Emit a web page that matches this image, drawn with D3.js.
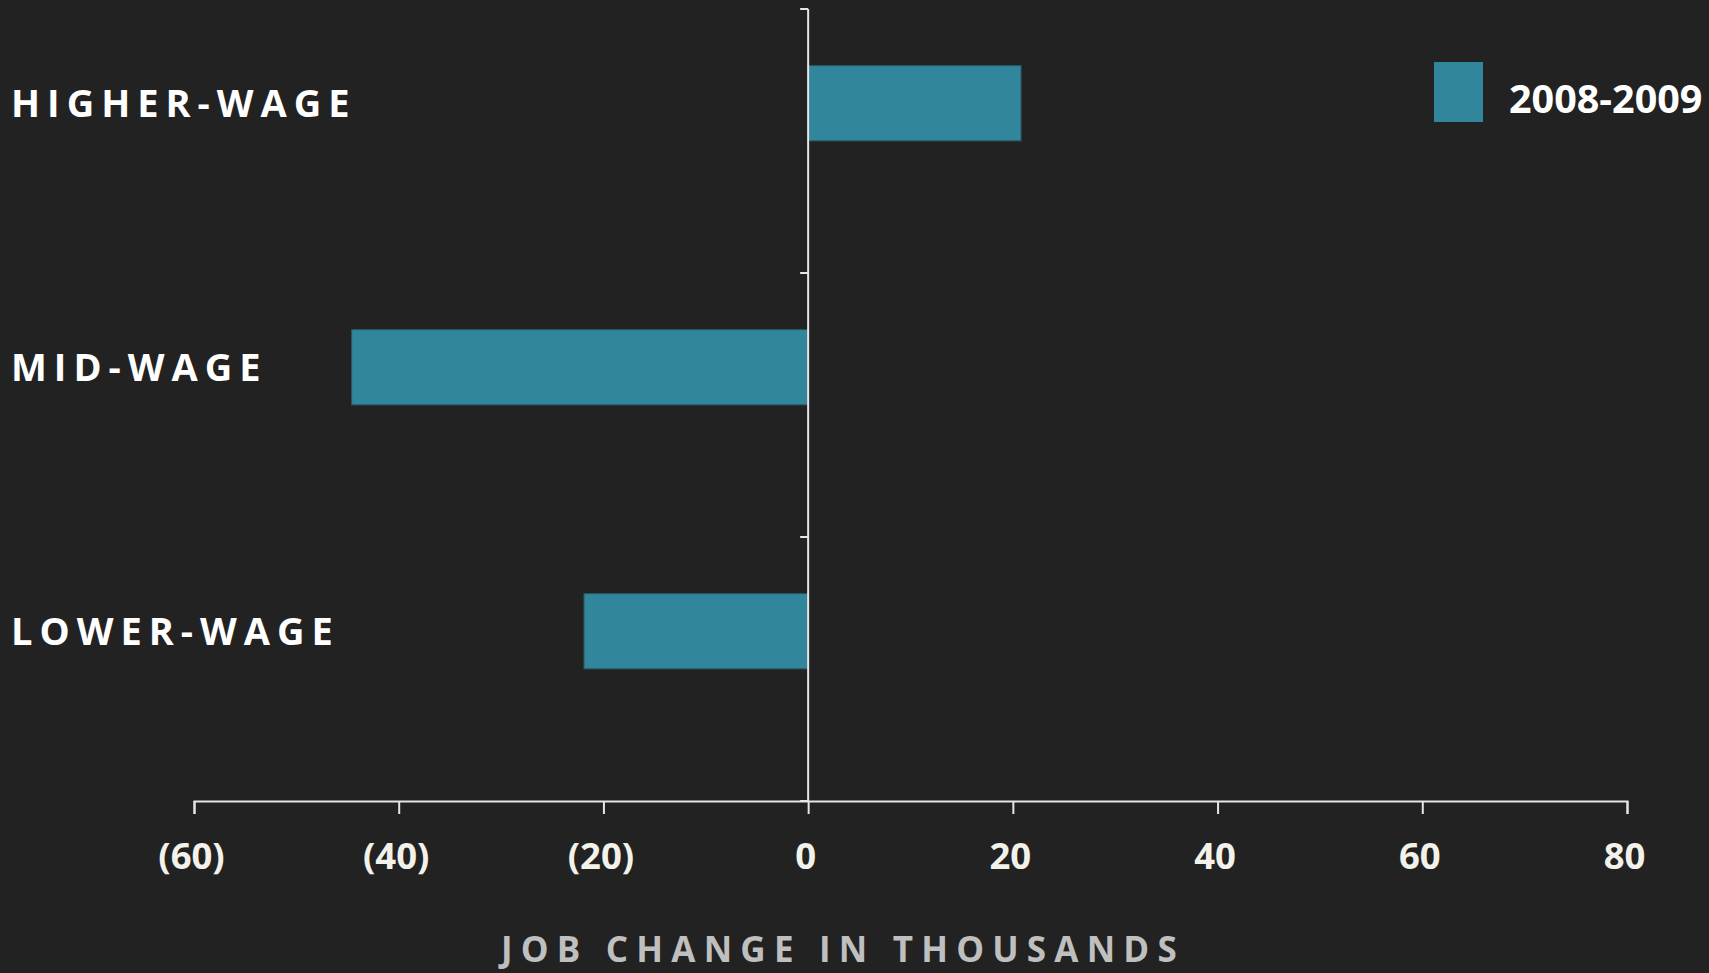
<!DOCTYPE html>
<html>
<head>
<meta charset="utf-8">
<script src="https://cdn.jsdelivr.net/npm/d3@7"></script>
<style>
  html, body { margin: 0; padding: 0; background: #222222; overflow: hidden; }
  svg { display: block; }
  text { font-family: "Open Sans", sans-serif; font-weight: 700; }
</style>
</head>
<body>
<div id="chart"></div>
<script>
// ---- data ----
const categories = ["HIGHER-WAGE", "MID-WAGE", "LOWER-WAGE"];
const seriesName = "2008-2009";
const values = [20.8, -44.6, -21.9];
const xTicks = [-60, -40, -20, 0, 20, 40, 60, 80];
const xTitle = "JOB CHANGE IN THOUSANDS";

// ---- layout ----
const W = 1709, H = 973;
const barColor = "#31869b";
const bg = "#222222";
const axisColor = "#e6e6e6";

const svg = d3.select("#chart").append("svg")
  .attr("width", W).attr("height", H);
svg.append("rect").attr("width", W).attr("height", H).attr("fill", bg);

const x = d3.scaleLinear().domain([-60, 80]).range([194, 1627]);
const y = d3.scaleBand().domain(categories).range([9, 801]).padding(0);
const step = y.step();
const barOff = step * 0.2145, barH = step * 0.285;

// bars
svg.append("g").selectAll("rect")
  .data(categories.map((c, i) => ({ c, v: values[i] })))
  .join("rect")
  .attr("x", d => x(Math.min(0, d.v)))
  .attr("width", d => Math.abs(x(d.v) - x(0)))
  .attr("y", d => y(d.c) + barOff)
  .attr("height", barH)
  .attr("fill", barColor)
  .attr("stroke", "#2b5666")
  .attr("stroke-width", 1);

// x axis
const fmt = v => v < 0 ? "(" + Math.abs(v) + ")" : String(v);
const xAxis = svg.append("g")
  .attr("transform", `translate(0,${801})`)
  .call(d3.axisBottom(x).tickValues(xTicks).tickFormat(fmt).tickSize(13).tickSizeOuter(13).tickPadding(29));
xAxis.select(".domain").attr("stroke", axisColor).attr("stroke-width", 2);
xAxis.selectAll(".tick line").attr("stroke", axisColor).attr("stroke-width", 2);
xAxis.selectAll(".tick text")
  .attr("fill", "#f2f2ea")
  .attr("font-size", 36.5)
  .attr("font-family", "'Open Sans', sans-serif")
  .attr("font-weight", 700)
  .attr("dy", "0.72em")
  .attr("dx", -3);

// y axis (vertical line at zero with ticks at category boundaries)
const yAxisG = svg.append("g");
yAxisG.append("line")
  .attr("x1", x(0)).attr("x2", x(0))
  .attr("y1", y.range()[0]).attr("y2", y.range()[1])
  .attr("stroke", axisColor).attr("stroke-width", 2);
const bounds = categories.map(c => y(c)).concat([y.range()[1]]);
yAxisG.selectAll("line.yt").data(bounds).join("line")
  .attr("class", "yt")
  .attr("x1", x(0) - 8).attr("x2", x(0))
  .attr("y1", d => d).attr("y2", d => d)
  .attr("stroke", axisColor).attr("stroke-width", 2);

// category labels
svg.append("g").selectAll("text")
  .data(categories)
  .join("text")
  .attr("x", 11)
  .attr("y", c => y(c) + barOff + barH / 2 + 13.7)
  .attr("fill", "#ffffff")
  .attr("font-size", 38)
  .attr("letter-spacing", "7px")
  .text(c => c);

// axis title
svg.append("text")
  .attr("x", 501)
  .attr("y", 962)
  .attr("fill", "#bfbfbf")
  .attr("font-size", 35)
  .attr("letter-spacing", "8.2px")
  .text(xTitle);

// legend
const lg = svg.append("g");
lg.append("rect")
  .attr("x", 1434).attr("y", 62).attr("width", 49).attr("height", 60)
  .attr("fill", barColor);
lg.append("text")
  .attr("x", 1509).attr("y", 113)
  .attr("fill", "#ffffff")
  .attr("font-size", 39.5)
  .text(seriesName);
</script>
</body>
</html>
